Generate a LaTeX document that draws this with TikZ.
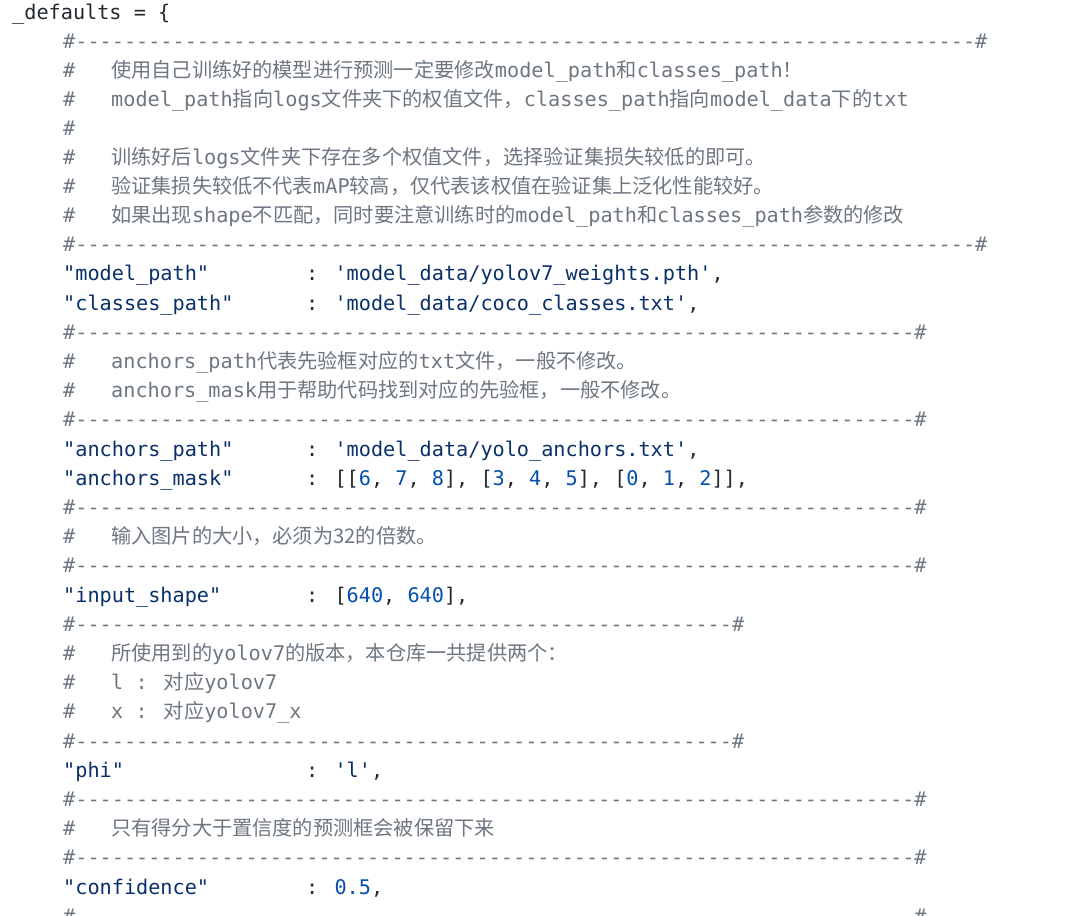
\documentclass[tikz,border=0pt]{standalone}
\usepackage{fontspec}
\newfontfamily\mono{DejaVu Sans Mono}
\newfontfamily\cjk{Noto Sans CJK SC}
\definecolor{cmt}{HTML}{6E7781}
\definecolor{str}{HTML}{0A3069}
\definecolor{num}{HTML}{0550AE}
\definecolor{txt}{HTML}{24292F}
\newcount\dcnt
\newcommand\dashes[1]{\dcnt=0 \loop\ifnum\dcnt<#1 -\advance\dcnt by 1 \repeat}
\newcommand\Sq[1]{\textcolor{str}{#1}}
\newcommand\Nq[1]{\textcolor{num}{#1}}
\newcommand\Cq[1]{{\cjk #1}}
\tikzset{code/.style={anchor=base west,inner sep=0pt,font=\mono\fontsize{20.2pt}{24pt}\selectfont,text=txt},
 cmtline/.style={code,text=cmt}}
\begin{document}
\begin{tikzpicture}[x=1pt,y=1pt]
\useasboundingbox[fill=white] (0,0) rectangle (1080,-916);
\node[code] (l0) at (12,-19) {\_defaults = \{};
\foreach \y/\nd [count=\i] in {48/74,251/74,339/69,426/69,514/69,572/69,631/54,748/54,806/69,864/69,923/69}
  \node[cmtline] (d\i) at (63,-\y) {\#\dashes{\nd}\#};
\foreach \y [count=\i] in {77,106,135,164,193,222,368,397,543,660,689,718,835}
  \node[cmtline] (h\i) at (63,-\y) {\#};
\node[cmtline] (c1) at (111,-77) {\Cq{使用自己训练好的模型进行预测一定要修改}model\_path\Cq{和}classes\_path\Cq{！}};
\node[cmtline] (c2) at (111,-106) {model\_path\Cq{指向}logs\Cq{文件夹下的权值文件，}classes\_path\Cq{指向}model\_data\Cq{下的}txt};
\node[cmtline] (c3) at (111,-164) {\Cq{训练好后}logs\Cq{文件夹下存在多个权值文件，选择验证集损失较低的即可。}};
\node[cmtline] (c4) at (111,-193) {\Cq{验证集损失较低不代表}mAP\Cq{较高，仅代表该权值在验证集上泛化性能较好。}};
\node[cmtline] (c5) at (111,-222) {\Cq{如果出现}shape\Cq{不匹配，同时要注意训练时的}model\_path\Cq{和}classes\_path\Cq{参数的修改}};
\node[cmtline] (c6) at (111,-368) {anchors\_path\Cq{代表先验框对应的}txt\Cq{文件，一般不修改。}};
\node[cmtline] (c7) at (111,-397) {anchors\_mask\Cq{用于帮助代码找到对应的先验框，一般不修改。}};
\node[cmtline] (c8) at (111,-543) {\Cq{输入图片的大小，必须为32的倍数。}};
\node[cmtline] (c9) at (111,-660) {\Cq{所使用到的}yolov7\Cq{的版本，本仓库一共提供两个：}};
\node[cmtline] (c10) at (111,-689) {l : \Cq{对应}yolov7};
\node[cmtline] (c11) at (111,-718) {x : \Cq{对应}yolov7\_x};
\node[cmtline] (c12) at (111,-835) {\Cq{只有得分大于置信度的预测框会被保留下来}};
\node[code] (k1) at (63,-280) {\Sq{"model\_path"}};
\node[code] (v1) at (306,-280) {: \Sq{'model\_data/yolov7\_weights.pth'},};
\node[code] (k2) at (63,-310) {\Sq{"classes\_path"}};
\node[code] (v2) at (306,-310) {: \Sq{'model\_data/coco\_classes.txt'},};
\node[code] (k3) at (63,-456) {\Sq{"anchors\_path"}};
\node[code] (v3) at (306,-456) {: \Sq{'model\_data/yolo\_anchors.txt'},};
\node[code] (k4) at (63,-485) {\Sq{"anchors\_mask"}};
\node[code] (v4) at (306,-485) {: [[\Nq{6}, \Nq{7}, \Nq{8}], [\Nq{3}, \Nq{4}, \Nq{5}], [\Nq{0}, \Nq{1}, \Nq{2}]],};
\node[code] (k5) at (63,-602) {\Sq{"input\_shape"}};
\node[code] (v5) at (306,-602) {: [\Nq{640}, \Nq{640}],};
\node[code] (k6) at (63,-777) {\Sq{"phi"}};
\node[code] (v6) at (306,-777) {: \Sq{'l'},};
\node[code] (k7) at (63,-894) {\Sq{"confidence"}};
\node[code] (v7) at (306,-894) {: \Nq{0.5},};
\end{tikzpicture}
\end{document}
